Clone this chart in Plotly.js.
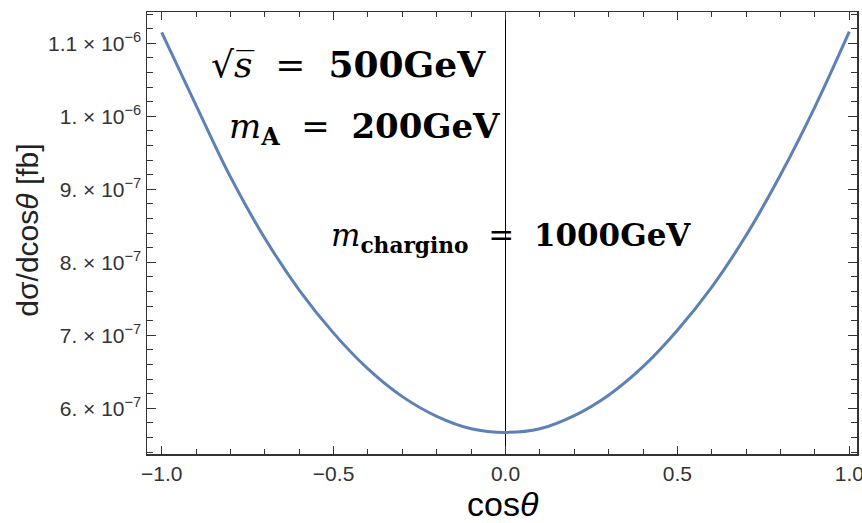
<!DOCTYPE html>
<html>
<head>
<meta charset="utf-8">
<script src="https://cdn.plot.ly/plotly-3.0.1.min.js"></script>
<style>html,body{margin:0;padding:0;background:#fff;}#chart{width:862px;height:523px;}</style>
</head>
<body>
<div id="chart"></div>
<script>
// cos(theta) values
const cosTheta = [-1.0, -0.9, -0.8, -0.7, -0.6, -0.5, -0.4, -0.3, -0.2, -0.1, 0.0,
                  0.1, 0.2, 0.3, 0.4, 0.5, 0.6, 0.7, 0.8, 0.9, 1.0];
// dσ/dcosθ in fb
const dSigma = [1.115e-6, 1.015e-6, 9.17e-7, 8.33e-7, 7.62e-7, 7.03e-7, 6.54e-7, 6.16e-7, 5.89e-7, 5.72e-7, 5.67e-7,
                5.72e-7, 5.90e-7, 6.18e-7, 6.57e-7, 7.07e-7, 7.66e-7, 8.37e-7, 9.20e-7, 1.013e-6, 1.116e-6];

const xTickVals = [-1.0, -0.5, 0.0, 0.5, 1.0];
const xTickText = ["−1.0", "−0.5", "0.0", "0.5", "1.0"];
const yTickVals = [6e-7, 7e-7, 8e-7, 9e-7, 1e-6, 1.1e-6];
const yTickText = ["6. × 10<sup>−7</sup>", "7. × 10<sup>−7</sup>", "8. × 10<sup>−7</sup>",
                   "9. × 10<sup>−7</sup>", "1. × 10<sup>−6</sup>", "1.1 × 10<sup>−6</sup>"];

const xTitle = "cos<i>θ</i>";
const yTitle = "dσ/dcos<i>θ</i> [fb]";
const annTexts = [
  "√<i>s̅</i>&nbsp; = &nbsp;<b>500GeV</b>",
  "<i>m</i><sub><b>A</b></sub>&nbsp; = &nbsp;<b>200GeV</b>",
  "<i>m</i><sub><b>chargino</b></sub>&nbsp; = &nbsp;<b>1000GeV</b>"
];

const sans = "Liberation Sans, Arial, sans-serif";
const serif = "DejaVu Serif, serif";
const frameColor = "#333333";

const data = [{
  type: "scatter",
  mode: "lines",
  x: cosTheta,
  y: dSigma,
  line: {color: "#5E81B5", width: 3, shape: "spline", smoothing: 1},
  hoverinfo: "skip"
}];

const layout = {
  width: 862, height: 523,
  margin: {l: 147, r: 5, t: 12, b: 69},
  paper_bgcolor: "#ffffff",
  plot_bgcolor: "#ffffff",
  showlegend: false,
  xaxis: {
    range: [-1.0427, 1.0224],
    tickmode: "array",
    tickvals: xTickVals, ticktext: xTickText,
    ticklabeloverflow: "allow",
    ticks: "inside", ticklen: 8, tickwidth: 1.3, tickcolor: frameColor,
    minor: {dtick: 0.1, tick0: 0, ticks: "inside", ticklen: 5, tickwidth: 1, tickcolor: frameColor, showgrid: false},
    showline: true, linecolor: frameColor, linewidth: 1.5, mirror: "ticks",
    showgrid: false,
    zeroline: true, zerolinecolor: "#000000", zerolinewidth: 1,
    tickfont: {family: sans, size: 21, color: "#333"}
  },
  yaxis: {
    range: [5.374e-7, 1.1429e-6],
    tickmode: "array",
    tickvals: yTickVals, ticktext: yTickText,
    ticklabeloverflow: "allow",
    ticks: "inside", ticklen: 9, tickwidth: 1.3, tickcolor: frameColor,
    minor: {dtick: 2e-8, tick0: 0, ticks: "inside", ticklen: 6, tickwidth: 1, tickcolor: frameColor, showgrid: false},
    showline: true, linecolor: frameColor, linewidth: 1.5, mirror: "ticks",
    showgrid: false, zeroline: false,
    tickfont: {family: sans, size: 21, color: "#333"}
  },
  annotations: [
    {text: xTitle, xref: "paper", yref: "paper", x: 0.502, y: -0.112, xanchor: "center", yanchor: "middle",
     showarrow: false, font: {family: sans, size: 34, color: "#000"}},
    {text: yTitle, xref: "paper", yref: "paper", x: -0.168, y: 0.507, xanchor: "center", yanchor: "middle",
     textangle: -90, showarrow: false, font: {family: sans, size: 30, color: "#222"}},
    {text: annTexts[0], xref: "paper", yref: "paper", x: 0.087, y: 0.883, xanchor: "left", yanchor: "middle",
     showarrow: false, font: {family: serif, size: 36, color: "#000"}},
    {text: annTexts[1], xref: "paper", yref: "paper", x: 0.112, y: 0.737, xanchor: "left", yanchor: "middle",
     showarrow: false, font: {family: serif, size: 34, color: "#000"}},
    {text: annTexts[2], xref: "paper", yref: "paper", x: 0.257, y: 0.49, xanchor: "left", yanchor: "middle",
     showarrow: false, font: {family: serif, size: 31, color: "#000"}}
  ]
};

Plotly.newPlot("chart", data, layout, {displayModeBar: false, staticPlot: true});
</script>
</body>
</html>
